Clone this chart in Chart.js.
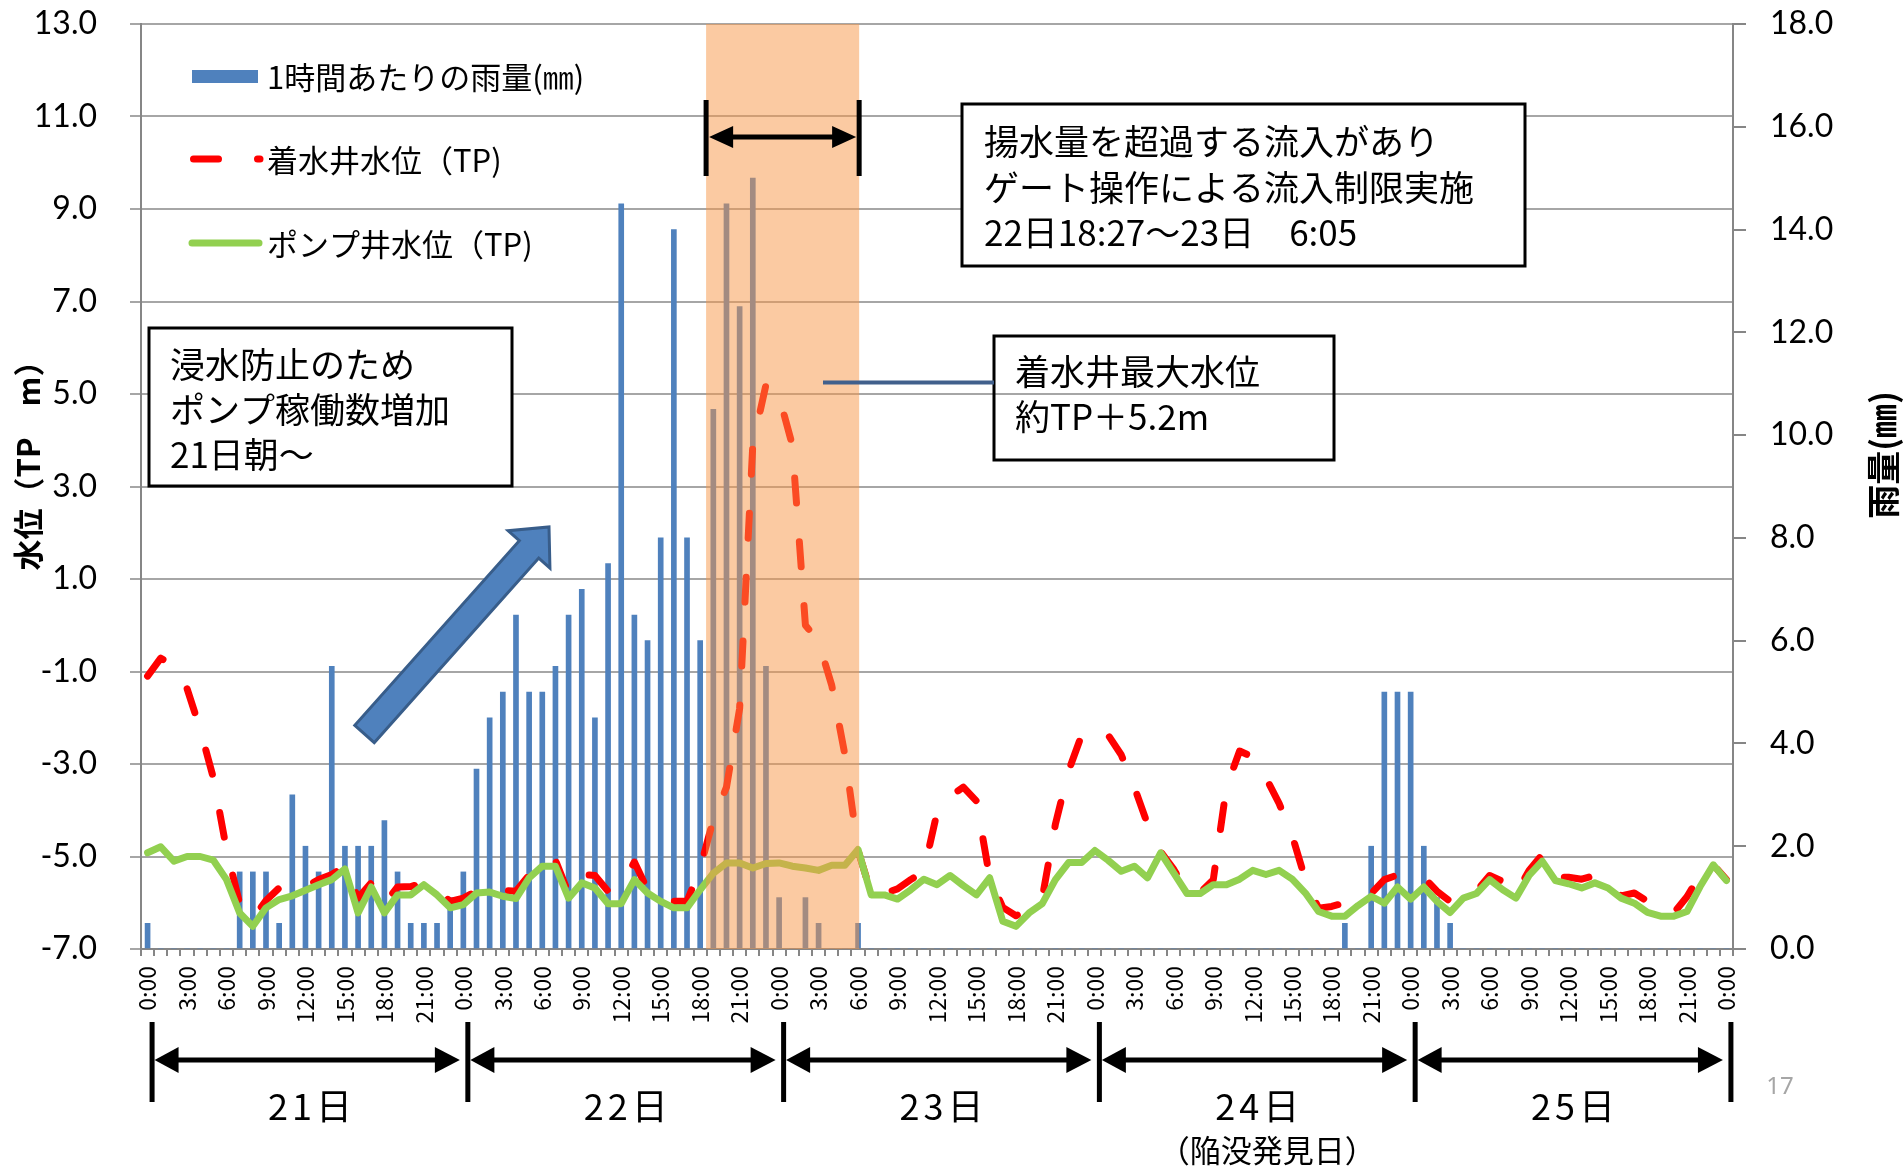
<!DOCTYPE html>
<html><head><meta charset="utf-8">
<script src="https://cdn.jsdelivr.net/npm/chart.js@4.4.1/dist/chart.umd.min.js"></script>
<style>html,body{margin:0;padding:0;background:#fff;overflow:hidden}#wrap{width:1903px;height:1171px;position:relative}</style>
</head><body><div id="wrap"><canvas id="c"></canvas></div>
<script>
// ---- data ----
const days = ["21日", "22日", "23日", "24日", "25日"];
const hourLabels = ["0:00","1:00","2:00","3:00","4:00","5:00","6:00","7:00","8:00","9:00","10:00","11:00",
  "12:00","13:00","14:00","15:00","16:00","17:00","18:00","19:00","20:00","21:00","22:00","23:00"];
const categories = days.flatMap(() => hourLabels).concat(["0:00"]);

// 1時間あたりの雨量 (mm)
const rain = [
  0.5,0,0,0,0,0,0,1.5,1.5,1.5,0.5,3.0,2.0,1.5,5.5,2.0,2.0,2.0,2.5,1.5,0.5,0.5,0.5,1.0,
  1.5,3.5,4.5,5.0,6.5,5.0,5.0,5.5,6.5,7.0,4.5,7.5,14.5,6.5,6.0,8.0,14.0,8.0,6.0,10.5,14.5,12.5,15.0,5.5,
  1.0,0,1.0,0.5,0,0,0.5,0,0,0,0,0,0,0,0,0,0,0,0,0,0,0,0,0,
  0,0,0,0,0,0,0,0,0,0,0,0,0,0,0,0,0,0,0,0.5,0,2.0,5.0,5.0,
  5.0,2.0,1.0,0.5,0,0,0,0,0,0,0,0,0,0,0,0,0,0,0,0,0,0,0,0,
  0
];
// 着水井水位 (TP m)
const inletLevel = [
  -1.10,-0.71,-0.89,-1.37,-2.25,-3.30,-4.85,-6.02,-6.35,-5.95,-5.68,-5.78,-5.65,-5.50,-5.39,-5.21,-5.90,-5.57,-6.02,-5.66,-5.65,-5.57,-5.72,-5.97,
  -5.90,-5.75,-5.68,-5.73,-5.75,-5.40,-5.07,-5.08,-5.80,-5.39,-5.41,-5.75,-5.62,-5.12,-5.72,-5.77,-5.97,-5.97,-5.25,-4.20,-3.50,-1.80,3.90,5.20,
  4.95,3.90,0.00,-0.35,-1.30,-2.80,-4.87,-5.80,-5.80,-5.70,-5.50,-5.32,-4.05,-3.70,-3.50,-3.80,-5.45,-6.10,-6.28,-6.15,-5.90,-4.30,-3.15,-2.37,
  -2.22,-2.37,-2.80,-3.50,-4.30,-4.90,-5.28,-5.75,-5.78,-5.50,-3.50,-2.72,-2.85,-3.30,-3.85,-4.55,-5.50,-6.12,-6.08,-6.00,-5.86,-5.80,-5.50,-5.40,
  -5.40,-5.45,-5.75,-5.97,-5.77,-5.75,-5.41,-5.54,-5.80,-5.30,-4.96,-5.45,-5.45,-5.49,-5.41,-5.62,-5.85,-5.79,-5.97,-6.02,-6.22,-5.87,-5.40,-5.18,
  -5.50
];
// ポンプ井水位 (TP m)
const pumpLevel = [
  -4.92,-4.79,-5.10,-5.00,-5.00,-5.08,-5.50,-6.22,-6.51,-6.11,-5.93,-5.85,-5.73,-5.61,-5.50,-5.27,-6.22,-5.66,-6.22,-5.83,-5.83,-5.61,-5.83,-6.11,
  -6.04,-5.79,-5.77,-5.86,-5.91,-5.46,-5.21,-5.21,-5.90,-5.57,-5.68,-6.02,-6.02,-5.50,-5.79,-5.97,-6.11,-6.11,-5.72,-5.36,-5.14,-5.14,-5.25,-5.15,
  -5.14,-5.21,-5.25,-5.30,-5.19,-5.19,-4.85,-5.83,-5.83,-5.92,-5.72,-5.49,-5.61,-5.41,-5.63,-5.83,-5.46,-6.40,-6.51,-6.22,-6.02,-5.50,-5.13,-5.13,
  -4.87,-5.08,-5.32,-5.21,-5.46,-4.92,-5.36,-5.80,-5.80,-5.61,-5.61,-5.49,-5.30,-5.39,-5.30,-5.49,-5.79,-6.19,-6.29,-6.29,-6.06,-5.86,-6.01,-5.66,
  -5.92,-5.66,-5.97,-6.21,-5.90,-5.80,-5.50,-5.72,-5.90,-5.41,-5.10,-5.52,-5.59,-5.68,-5.57,-5.68,-5.90,-6.01,-6.21,-6.29,-6.29,-6.19,-5.65,-5.18,
  -5.52
];
// gate-limited inflow period, in hours from 21日 0:00 (22日18:27 - 23日6:05)
const gatePeriod = [42 + 27/60, 54 + 5/60];
const peakLevel = 5.2;

const seriesNames = ["1時間あたりの雨量(㎜)", "着水井水位（TP)", "ポンプ井水位（TP)"];
const note1 = ["揚水量を超過する流入があり", "ゲート操作による流入制限実施", "22日18:27〜23日　6:05"];
const note2 = ["着水井最大水位", "約TP＋5.2m"];
const note3 = ["浸水防止のため", "ポンプ稼働数増加", "21日朝〜"];

// ---- drawing helpers ----
const JP = '"Noto Sans CJK JP", "Noto Sans", sans-serif';
function catPx(x, v) {
  const i = Math.floor(v), f = v - i;
  const a = x.getPixelForValue(i), b = x.getPixelForValue(i + 1);
  return a + (b - a) * f;
}
function head(ctx, tx, ty, dir, len, half) {
  ctx.beginPath();
  ctx.moveTo(tx, ty);
  ctx.lineTo(tx + dir * len, ty - half);
  ctx.lineTo(tx + dir * len, ty + half);
  ctx.closePath();
  ctx.fill();
}
function textLines(ctx, lines, x, y0, gap) {
  lines.forEach((t, k) => ctx.fillText(t, x, y0 + k * gap));
}

const overlayPlugin = {
  id: 'overlay',
  afterDatasetsDraw(chart) {
    const {ctx, chartArea: a, scales: {x}} = chart;
    const x0 = catPx(x, gatePeriod[0]), x1 = catPx(x, gatePeriod[1]);
    ctx.save();
    ctx.fillStyle = 'rgba(247,150,70,0.5)';
    ctx.fillRect(x0, a.top, x1 - x0, a.bottom - a.top);
    ctx.restore();
  }
};

const annPlugin = {
  id: 'ann',
  afterDraw(chart) {
    const {ctx, chartArea: a, scales: {x, y}} = chart;
    ctx.save();
    ctx.fillStyle = '#000'; ctx.strokeStyle = '#000';

    // gate double arrow
    const g0 = catPx(x, gatePeriod[0]), g1 = catPx(x, gatePeriod[1]);
    ctx.lineWidth = 5;
    ctx.beginPath();
    ctx.moveTo(g0, 100); ctx.lineTo(g0, 176);
    ctx.moveTo(g1, 100); ctx.lineTo(g1, 176);
    ctx.moveTo(g0 + 20, 137); ctx.lineTo(g1 - 20, 137);
    ctx.stroke();
    head(ctx, g0 + 3, 137, 1, 24, 11);
    head(ctx, g1 - 3, 137, -1, 24, 11);

    // text boxes
    ctx.lineWidth = 3;
    ctx.fillStyle = '#fff';
    ctx.fillRect(962, 104, 563, 162); ctx.strokeRect(962, 104, 563, 162);
    ctx.fillRect(149, 328, 363, 158); ctx.strokeRect(149, 328, 363, 158);
    ctx.strokeRect(994, 336, 340, 124);
    ctx.fillStyle = '#000';
    ctx.font = '35px ' + JP;
    ctx.textBaseline = 'middle'; ctx.textAlign = 'left';
    textLines(ctx, note1, 984, 142, 45.5);
    textLines(ctx, note2, 1015, 372, 45);
    textLines(ctx, note3, 170, 365, 45);

    // connector to the peak
    const yp = y.getPixelForValue(peakLevel + 0.05);
    ctx.strokeStyle = '#41608C'; ctx.lineWidth = 4;
    ctx.beginPath(); ctx.moveTo(823, yp); ctx.lineTo(994, yp); ctx.stroke();

    // blue block arrow
    const T = [364.5, 734], P = [549, 527];
    const L = Math.hypot(P[0] - T[0], P[1] - T[1]);
    const u = [(P[0] - T[0]) / L, (P[1] - T[1]) / L], n = [-u[1], u[0]];
    const B = [P[0] - 30 * u[0], P[1] - 30 * u[1]];
    const pt = (o, s, w) => [o[0] + n[0] * w * s, o[1] + n[1] * w * s];
    const pts = [pt(T, 1, 13), pt(B, 1, 13), pt(B, 1, 28), P, pt(B, -1, 28), pt(B, -1, 13), pt(T, -1, 13)];
    ctx.beginPath();
    pts.forEach((p, k) => k ? ctx.lineTo(p[0], p[1]) : ctx.moveTo(p[0], p[1]));
    ctx.closePath();
    ctx.fillStyle = '#4F81BD'; ctx.fill();
    ctx.strokeStyle = '#385D8A'; ctx.lineWidth = 3; ctx.lineJoin = 'miter'; ctx.stroke();

    // legend
    ctx.fillStyle = '#4F81BD'; ctx.fillRect(192, 70, 66, 13);
    ctx.lineCap = 'round'; ctx.lineWidth = 7;
    ctx.strokeStyle = '#FF0000'; ctx.setLineDash([25, 39]);
    ctx.beginPath(); ctx.moveTo(193.5, 159); ctx.lineTo(260, 159); ctx.stroke();
    ctx.setLineDash([]);
    ctx.strokeStyle = '#92D050';
    ctx.beginPath(); ctx.moveTo(192, 243); ctx.lineTo(259, 243); ctx.stroke();
    ctx.lineCap = 'butt';
    ctx.fillStyle = '#000'; ctx.font = '31px ' + JP;
    ctx.fillText(seriesNames[0], 267, 77);
    ctx.fillText(seriesNames[1], 267, 160);
    ctx.fillText(seriesNames[2], 267, 244);

    // axis titles
    ctx.font = 'bold 31px ' + JP; ctx.textAlign = 'center';
    ctx.save(); ctx.translate(28, 458); ctx.rotate(-Math.PI / 2); ctx.fillText('水位（TP　m）', 0, 0); ctx.restore();
    ctx.font = 'bold 34px ' + JP;
    ctx.save(); ctx.translate(1883, 455); ctx.rotate(-Math.PI / 2); ctx.fillText('雨量(㎜)', 0, 0); ctx.restore();

    // day ranges below the axis
    ctx.strokeStyle = '#000'; ctx.fillStyle = '#000'; ctx.lineWidth = 5;
    const bx = [];
    for (let k = 0; k <= days.length; k++) bx.push(catPx(x, 24 * k) + 4.5);
    ctx.beginPath();
    bx.forEach(v => { ctx.moveTo(v, 1022); ctx.lineTo(v, 1102); });
    for (let k = 0; k < days.length; k++) { ctx.moveTo(bx[k] + 20, 1060); ctx.lineTo(bx[k + 1] - 28, 1060); }
    ctx.stroke();
    ctx.font = '36px ' + JP; ctx.textAlign = 'center';
    try { ctx.letterSpacing = '4px'; } catch (e) {}
    for (let k = 0; k < days.length; k++) {
      head(ctx, bx[k] + 2.5, 1060, 1, 24, 13);
      head(ctx, bx[k + 1] - 8, 1060, -1, 25, 13);
      ctx.fillText(days[k], (bx[k] + bx[k + 1]) / 2 + 2, 1106);
    }
    try { ctx.letterSpacing = '0px'; } catch (e) {}
    ctx.font = '31px ' + JP;
    ctx.fillText('（陥没発見日）', (bx[3] + bx[4]) / 2 + 10, 1150);
    ctx.fillStyle = '#A6A6A6'; ctx.font = '24px "Noto Sans", sans-serif';
    ctx.fillText('17', 1780, 1087);
    ctx.restore();
  }
};

Chart.defaults.font.family = 'Lato';
Chart.defaults.color = '#000';

new Chart(document.getElementById('c'), {
  type: 'bar',
  data: {
    labels: categories,
    datasets: [
      { type: 'line', label: seriesNames[2], data: pumpLevel, yAxisID: 'y', order: 0,
        borderColor: '#92D050', borderWidth: 7, borderJoinStyle: 'round', borderCapStyle: 'round',
        pointRadius: 0, tension: 0, fill: false },
      { type: 'line', label: seriesNames[1], data: inletLevel, yAxisID: 'y', order: 1,
        borderColor: '#FF0000', borderWidth: 7, borderDash: [25, 39], borderJoinStyle: 'round', borderCapStyle: 'round',
        pointRadius: 0, tension: 0, fill: false },
      { type: 'bar', label: seriesNames[0], data: rain, yAxisID: 'y1', order: 2,
        backgroundColor: '#4F81BD', barThickness: 5 }
    ]
  },
  options: {
    responsive: true, maintainAspectRatio: false, animation: false,
    layout: { padding: { top: 24, left: 0, right: 0, bottom: 0 } },
    plugins: { legend: { display: false }, tooltip: { enabled: false } },
    scales: {
      x: {
        offset: true,
        afterFit(s) { s.height = 222; },
        grid: { offset: true, drawOnChartArea: false, drawTicks: true, tickLength: 7, color: '#868686', lineWidth: 2 },
        border: { display: true, color: '#868686', width: 2 },
        ticks: { autoSkip: false, maxRotation: 90, minRotation: 90, padding: 10,
          font: { family: JP, size: 23 },
          callback(v, i) { return i % 3 === 0 ? categories[i] : ''; } }
      },
      y: {
        position: 'left', min: -7, max: 13,
        afterFit(s) { s.width = 141; },
        // long tick slot so the labels sit away from the axis; only the 11px next to the axis is drawn
        grid: { color: '#A6A6A6', lineWidth: 2, tickLength: 44, tickColor: '#A6A6A6',
          tickBorderDash: [11, 33], tickBorderDashOffset: 11 },
        border: { display: true, color: '#868686', width: 2 },
        ticks: { stepSize: 2, padding: 0, font: { size: 32 }, callback(v) { return Number(v).toFixed(1); } }
      },
      y1: {
        position: 'right', min: 0, max: 18,
        afterFit(s) { s.width = 170; },
        grid: { drawOnChartArea: false, tickLength: 37, color: '#868686', lineWidth: 2,
          tickBorderDash: [12, 40] },
        border: { display: true, color: '#868686', width: 2 },
        ticks: { stepSize: 2, padding: 0, font: { size: 32 }, callback(v) { return Number(v).toFixed(1); } }
      }
    }
  },
  plugins: [overlayPlugin, annPlugin]
});
</script>
</body></html>
